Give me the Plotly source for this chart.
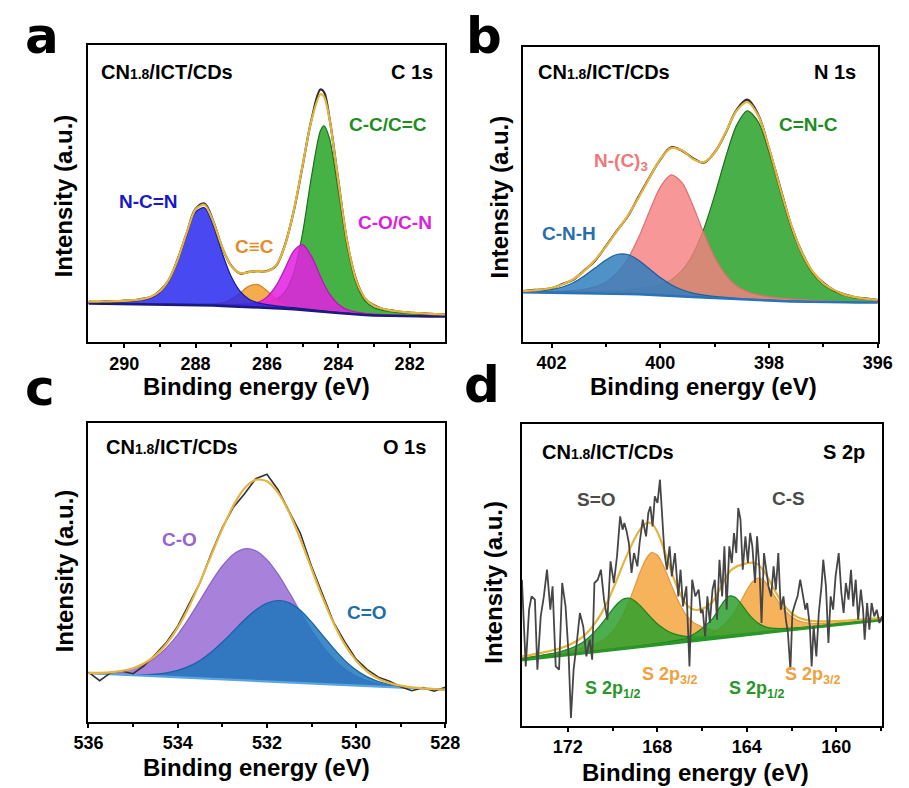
import plotly.graph_objects as go

FIG_W, FIG_H = 909, 788
SANS = "Liberation Sans, Arial, Helvetica, sans-serif"
LETTER_FONT = "DejaVu Sans, Liberation Sans, Arial, sans-serif"

# ---------------- C 1s (binding energy in eV, intensity in a.u.) ----------------
C1S_BE = [291.0, 290.75, 290.5, 290.25, 290.0, 289.75, 289.5, 289.25, 289.0, 288.75,
          288.5, 288.25, 288.0, 287.75, 287.5, 287.25, 287.0, 286.75, 286.5, 286.25,
          286.0, 285.75, 285.5, 285.25, 285.0, 284.75, 284.5, 284.4, 284.25, 284.0,
          283.75, 283.5, 283.25, 283.0, 282.75, 282.5, 282.25, 282.0, 281.75, 281.5,
          281.25, 281.0]
C1S_BACKGROUND = [38.5, 38.4, 38.3, 38.2, 38.1, 38.0, 37.9, 37.8, 37.6, 37.4,
                  37.2, 37.0, 36.8, 36.6, 36.4, 36.1, 35.8, 35.5, 35.1, 34.7,
                  34.3, 33.8, 33.3, 32.7, 32.1, 31.3, 30.5, 30.2, 29.7, 28.9,
                  28.1, 27.4, 26.9, 26.5, 26.2, 26.0, 25.9, 25.8, 25.7, 25.6,
                  25.5, 25.5]
C1S_NCN = [1.1, 1.2, 1.5, 1.8, 2.2, 2.8, 3.9, 6.2, 11.8, 23.4,
           43.5, 70.0, 93.2, 97.7, 79.6, 52.6, 29.6, 15.1, 7.7, 4.5,
           3.1, 2.4, 1.9, 1.6, 1.3, 1.1, 1.0, 0.9, 0.8, 0.7,
           0.7, 0.6, 0.5, 0.5, 0.4, 0.4, 0.4, 0.3, 0.3, 0.3,
           0.3, 0.3]
C1S_CTRIPLEC = [0.1, 0.1, 0.1, 0.1, 0.1, 0.1, 0.2, 0.2, 0.2, 0.3,
                0.3, 0.4, 0.6, 0.8, 1.4, 3.0, 6.9, 13.6, 20.8, 22.7,
                17.0, 9.5, 4.4, 1.9, 1.0, 0.7, 0.5, 0.5, 0.4, 0.3,
                0.3, 0.2, 0.2, 0.2, 0.2, 0.1, 0.1, 0.1, 0.1, 0.1,
                0.1, 0.1]
C1S_CO_CN = [0.2, 0.2, 0.2, 0.2, 0.2, 0.3, 0.3, 0.3, 0.4, 0.4,
             0.5, 0.6, 0.7, 0.8, 1.0, 1.2, 1.5, 2.0, 2.9, 5.1,
             10.6, 22.0, 39.7, 58.2, 65.3, 54.3, 35.0, 27.7, 18.6, 8.9,
             4.4, 2.6, 1.8, 1.4, 1.1, 0.9, 0.8, 0.6, 0.6, 0.5,
             0.4, 0.4]
C1S_CC = [0.4, 0.4, 0.5, 0.5, 0.5, 0.6, 0.6, 0.7, 0.7, 0.8,
          0.9, 1.0, 1.2, 1.3, 1.6, 1.8, 2.2, 2.7, 3.3, 4.2,
          5.6, 8.7, 16.6, 36.6, 76.9, 134.3, 180.8, 186.0, 174.6, 122.4,
          67.0, 31.2, 14.3, 7.8, 5.3, 4.0, 3.1, 2.5, 2.1, 1.8,
          1.5, 1.3]
C1S_RAW = [40.5, 40.2, 40.8, 40.6, 41.3, 41.6, 43.2, 45.0, 51.2, 62.0,
           82.8, 108.6, 133.0, 138.5, 120.4, 94.2, 76.3, 68.5, 70.2, 70.8,
           71.0, 76.0, 96.4, 130.5, 176.0, 222.5, 252.5, 250.0, 224.8, 161.8,
           100.0, 62.4, 43.4, 36.8, 33.0, 31.6, 30.1, 29.5, 28.6, 28.5,
           27.6, 27.8]

# ---------------- N 1s ----------------
N1S_BE = [402.8, 402.6, 402.4, 402.2, 402.0, 401.8, 401.6, 401.4, 401.2, 401.0,
          400.8, 400.6, 400.4, 400.2, 400.0, 399.8, 399.6, 399.4, 399.2, 399.0,
          398.8, 398.6, 398.4, 398.2, 398.0, 397.8, 397.6, 397.4, 397.2, 397.0,
          396.8, 396.6, 396.4, 396.2, 396.0]
N1S_BACKGROUND = [49.6, 49.5, 49.4, 49.3, 49.2, 49.1, 49.0, 48.8, 48.6, 48.4,
                  48.1, 47.8, 47.4, 47.0, 46.5, 46.0, 45.4, 44.8, 44.2, 43.6,
                  43.0, 42.4, 41.9, 41.4, 41.0, 40.6, 40.3, 40.0, 39.8, 39.6,
                  39.5, 39.4, 39.3, 39.3, 39.3]
N1S_CNH = [0.3, 0.5, 0.8, 1.5, 2.8, 5.6, 10.0, 16.9, 25.0, 33.3,
           39.1, 39.4, 34.1, 25.9, 17.6, 11.0, 6.5, 3.8, 2.4, 1.7,
           1.3, 1.0, 0.8, 0.7, 0.6, 0.5, 0.4, 0.3, 0.3, 0.2,
           0.2, 0.2, 0.1, 0.1, 0.1]
N1S_NC3 = [0.2, 0.3, 0.5, 0.7, 1.0, 1.5, 2.3, 3.5, 6.2, 11.0,
           20.2, 34.9, 56.7, 83.3, 108.1, 120.8, 113.7, 91.4, 64.4, 40.8,
           23.9, 13.6, 8.1, 5.4, 3.9, 3.1, 2.4, 1.9, 1.5, 1.2,
           0.9, 0.7, 0.5, 0.4, 0.3]
N1S_CNC = [0.2, 0.3, 0.4, 0.5, 0.7, 0.9, 1.1, 1.4, 1.8, 2.3,
           3.0, 3.8, 5.8, 7.4, 10.4, 15.8, 25.8, 42.8, 68.6, 102.8,
           140.9, 173.7, 188.9, 178.6, 148.3, 110.3, 74.8, 47.2, 28.6, 17.4,
           11.0, 6.5, 4.5, 3.0, 2.0]
N1S_RAW = [50.5, 50.3, 51.4, 52.2, 53.5, 57.6, 62.0, 71.2, 81.0, 95.6,
           110.8, 125.2, 144.8, 164.2, 182.0, 194.4, 191.0, 183.6, 179.0, 189.4,
           208.6, 231.6, 242.0, 227.0, 193.0, 155.2, 117.4, 89.8, 69.8, 58.8,
           51.2, 47.2, 44.0, 43.2, 41.5]

# ---------------- O 1s ----------------
O1S_BE = [536.0, 535.75, 535.5, 535.25, 535.0, 534.75, 534.5, 534.25, 534.0, 533.75,
          533.5, 533.25, 533.0, 532.75, 532.5, 532.25, 532.0, 531.75, 531.5, 531.25,
          531.0, 530.75, 530.5, 530.25, 530.0, 529.75, 529.5, 529.25, 529.0, 528.75,
          528.5, 528.25, 528.0]
O1S_BACKGROUND = [48.5, 48.0, 47.5, 47.0, 46.4, 45.9, 45.4, 44.9, 44.4, 43.8,
                  43.3, 42.8, 42.3, 41.8, 41.3, 40.7, 40.2, 39.7, 39.2, 38.7,
                  38.2, 37.7, 37.2, 36.6, 36.1, 35.6, 35.1, 34.6, 34.1, 33.5,
                  33.0, 32.5, 32.0]
O1S_CO = [0.4, 0.9, 1.8, 3.6, 6.6, 11.4, 18.8, 29.2, 42.8, 59.5,
          78.0, 96.8, 113.4, 125.7, 131.6, 130.3, 121.9, 107.8, 90.1, 71.2,
          53.2, 37.6, 25.1, 15.8, 9.4, 5.3, 2.8, 1.4, 0.7, 0.3,
          0.1, 0.1, 0.0]
O1S_CDO = [0.0, 0.0, 0.1, 0.2, 0.5, 1.1, 2.1, 3.9, 6.9, 11.5,
           18.0, 26.7, 37.1, 48.8, 60.6, 70.9, 78.3, 81.5, 79.8, 72.7,
           61.6, 48.7, 35.8, 24.5, 15.6, 9.2, 5.1, 2.6, 1.3, 0.6,
           0.2, 0.1, 0.0]
O1S_RAW = [49.5, 41.0, 49.0, 50.5, 48.0, 56.0, 67.5, 79.5, 95.5, 116.5,
           139.0, 168.0, 194.0, 214.5, 228.0, 243.0, 247.5, 232.0, 210.5, 188.5,
           155.5, 126.5, 99.0, 79.5, 62.5, 52.0, 44.5, 40.5, 35.0, 31.0,
           34.0, 30.5, 34.5]

# ---------------- S 2p ----------------
S2P_BE = [174.25, 174.0, 173.75, 173.5, 173.25, 173.0, 172.75, 172.5, 172.25, 172.0,
          171.75, 171.5, 171.25, 171.0, 170.75, 170.5, 170.25, 170.0, 169.75, 169.5,
          169.25, 169.0, 168.75, 168.5, 168.25, 168.0, 167.75, 167.5, 167.25, 167.0,
          166.75, 166.5, 166.25, 166.0, 165.75, 165.5, 165.25, 165.0, 164.75, 164.5,
          164.25, 164.0, 163.75, 163.5, 163.25, 163.0, 162.75, 162.5, 162.25, 162.0,
          161.75, 161.5, 161.25, 161.0, 160.75, 160.5, 160.25, 160.0, 159.75, 159.5,
          159.25, 159.0, 158.75, 158.5, 158.25, 158.0, 157.75]
S2P_BACKGROUND = [65.5, 66.1, 66.7, 67.4, 68.0, 68.6, 69.2, 69.8, 70.5, 71.1,
                  71.7, 72.3, 73.0, 73.6, 74.2, 74.8, 75.4, 76.1, 76.7, 77.3,
                  77.9, 78.5, 79.2, 79.8, 80.4, 81.0, 81.6, 82.3, 82.9, 83.5,
                  84.1, 84.8, 85.4, 86.0, 86.6, 87.2, 87.9, 88.5, 89.1, 89.7,
                  90.3, 91.0, 91.6, 92.2, 92.8, 93.4, 94.1, 94.7, 95.3, 95.9,
                  96.6, 97.2, 97.8, 98.4, 99.0, 99.7, 100.3, 100.9, 101.5, 102.1,
                  102.8, 103.4, 104.0, 104.6, 105.2, 105.9, 106.5]
S2P_SO_12 = [1.4, 1.6, 1.7, 2.0, 2.2, 2.5, 2.9, 3.4, 4.2, 5.2,
             6.7, 8.8, 11.8, 15.8, 20.8, 26.8, 33.5, 40.3, 46.0, 49.5,
             49.6, 46.3, 40.5, 33.8, 27.1, 20.9, 16.0, 11.9, 8.9, 6.8,
             5.3, 4.2, 3.5, 2.9, 2.5, 2.2, 2.0, 1.7, 1.6, 1.4,
             1.3, 1.2, 1.1, 1.0, 0.9, 0.9, 0.8, 0.8, 0.7, 0.7,
             0.6, 0.6, 0.6, 0.5, 0.5, 0.5, 0.5, 0.4, 0.4, 0.4,
             0.4, 0.4, 0.3, 0.3, 0.3, 0.3, 0.3]
S2P_SO_32 = [1.4, 1.5, 1.6, 1.8, 1.9, 2.1, 2.3, 2.6, 2.9, 3.3,
             3.8, 4.4, 5.0, 6.1, 7.6, 9.8, 13.1, 18.1, 25.2, 34.9,
             47.0, 61.1, 75.4, 87.0, 92.7, 89.7, 79.5, 65.6, 51.3, 38.4,
             28.0, 20.5, 16.0, 13.0, 10.2, 8.2, 6.8, 5.6, 4.8, 3.4,
             3.0, 2.7, 2.4, 2.2, 2.0, 1.8, 1.7, 1.5, 1.4, 1.3,
             1.2, 1.1, 1.1, 1.0, 0.9, 0.9, 0.8, 0.8, 0.7, 0.7,
             0.7, 0.6, 0.6, 0.6, 0.5, 0.5, 0.5]
S2P_CS_12 = [0.1, 0.1, 0.1, 0.1, 0.2, 0.2, 0.2, 0.2, 0.2, 0.2,
             0.3, 0.3, 0.3, 0.3, 0.4, 0.4, 0.4, 0.5, 0.5, 0.6,
             0.6, 0.7, 0.8, 0.9, 1.0, 1.1, 1.3, 1.6, 1.9, 2.3,
             2.9, 5.2, 7.8, 11.2, 15.5, 20.7, 28.9, 36.6, 40.7, 38.5,
             31.5, 23.2, 15.9, 10.4, 6.8, 4.5, 3.2, 2.5, 2.0, 1.6,
             1.4, 1.2, 1.0, 0.9, 0.8, 0.7, 0.6, 0.6, 0.5, 0.5,
             0.4, 0.4, 0.4, 0.4, 0.3, 0.3, 0.3]
S2P_CS_32 = [0.2, 0.2, 0.2, 0.2, 0.3, 0.3, 0.3, 0.3, 0.3, 0.3,
             0.4, 0.4, 0.4, 0.4, 0.5, 0.5, 0.5, 0.6, 0.6, 0.7,
             0.7, 0.8, 0.9, 1.0, 1.1, 1.2, 1.3, 1.5, 1.7, 1.9,
             2.2, 2.6, 3.0, 3.7, 4.7, 6.4, 8.8, 12.7, 18.3, 25.7,
             34.7, 44.3, 52.1, 55.5, 52.6, 45.0, 35.5, 26.4, 18.8, 13.1,
             9.0, 6.5, 4.9, 3.8, 3.1, 2.6, 2.2, 1.9, 1.7, 1.5,
             1.3, 1.2, 1.1, 1.0, 0.9, 0.8, 0.7]
S2P_RAW_BE = [174.05, 173.88, 173.73, 173.62, 173.47, 173.36, 173.21, 173.07, 172.93, 172.78,
              172.68, 172.54, 172.39, 172.25, 172.10, 171.96, 171.86, 171.74, 171.60, 171.46,
              171.31, 171.17, 171.02, 170.91, 170.81, 170.66, 170.52, 170.38, 170.23, 170.09,
              169.94, 169.80, 169.66, 169.55, 169.47, 169.37, 169.27, 169.15, 169.04, 168.89,
              168.79, 168.65, 168.50, 168.40, 168.31, 168.21, 168.11, 167.99, 167.88, 167.78,
              167.68, 167.57, 167.45, 167.35, 167.21, 167.06, 166.96, 166.85, 166.70, 166.56,
              166.44, 166.30, 166.15, 166.05, 165.97, 165.86, 165.76, 165.65, 165.53, 165.43,
              165.33, 165.22, 165.10, 165.00, 164.90, 164.78, 164.67, 164.57, 164.47, 164.38,
              164.28, 164.18, 164.06, 163.95, 163.85, 163.75, 163.63, 163.54, 163.43, 163.34,
              163.23, 163.13, 163.03, 162.91, 162.80, 162.70, 162.59, 162.48, 162.36, 162.25,
              162.16, 162.05, 161.96, 161.83, 161.73, 161.61, 161.50, 161.38, 161.30, 161.18,
              161.10, 161.01, 160.89, 160.78, 160.66, 160.58, 160.46, 160.35, 160.25, 160.14,
              160.03, 159.89, 159.77, 159.67, 159.57, 159.45, 159.34, 159.24, 159.13, 159.02,
              158.90, 158.80, 158.73, 158.62, 158.52, 158.42, 158.30, 158.19, 158.07, 157.95]
S2P_RAW = [146.0, 59.3, 116.0, 129.3, 126.0, 56.0, 109.3, 129.3, 156.0, 116.0,
           139.3, 59.3, 56.0, 142.7, 119.3, 69.3, 7.7, 56.0, 82.7, 112.7,
           99.3, 69.3, 86.0, 66.0, 142.7, 146.0, 156.0, 126.0, 106.0, 164.3,
           142.7, 169.3, 209.3, 196.0, 202.7, 194.3, 182.7, 152.7, 172.7, 159.3,
           182.7, 206.0, 189.3, 212.7, 219.3, 199.3, 229.3, 222.7, 246.0, 206.0,
           172.7, 156.0, 179.3, 149.3, 172.7, 129.3, 156.0, 119.3, 139.3, 59.3,
           146.0, 129.3, 136.0, 112.7, 116.0, 89.3, 129.3, 102.7, 136.0, 146.0,
           106.0, 166.0, 129.3, 179.3, 116.0, 179.3, 162.7, 192.7, 172.7, 217.7,
           206.0, 156.0, 189.3, 162.7, 192.7, 179.3, 142.7, 189.3, 156.0, 102.7,
           172.7, 156.0, 139.3, 129.3, 159.3, 136.0, 172.7, 116.0, 129.3, 106.0,
           92.7, 56.0, 112.7, 122.7, 129.3, 146.0, 132.7, 116.0, 122.7, 99.3,
           59.3, 99.3, 69.3, 112.7, 139.3, 166.0, 139.3, 82.7, 129.3, 116.0,
           149.3, 172.7, 132.7, 112.7, 142.7, 126.0, 156.0, 119.3, 146.0, 106.0,
           136.0, 116.0, 86.0, 122.7, 96.0, 122.7, 109.3, 116.0, 102.7, 109.3]

FIT_COLOR = "rgb(229,180,62)"


def px(xp, yp):
    """Page pixel position -> paper coordinates."""
    return xp / FIG_W, 1 - yp / FIG_H


fig = go.Figure()


def add_spectrum(ax, be, background, components, raw_be, raw, base_color,
                 base_width, raw_color, raw_width, raw_shape, raw_on_top):
    """Filled fit components on the background, then background, raw data and fit sum."""
    xa, ya = "x" + ax, "y" + ax
    for values, fill, edge in components:
        top = [b + v for b, v in zip(background, values)]
        fig.add_trace(go.Scatter(x=be, y=background, mode="lines",
                                 line=dict(width=0, color=edge),
                                 hoverinfo="skip", showlegend=False,
                                 xaxis=xa, yaxis=ya))
        fig.add_trace(go.Scatter(x=be, y=top, mode="lines", fill="tonexty",
                                 fillcolor=fill,
                                 line=dict(width=1.2, color=edge,
                                           shape="spline", smoothing=0.8),
                                 hoverinfo="skip", showlegend=False,
                                 xaxis=xa, yaxis=ya))
    fig.add_trace(go.Scatter(x=be, y=background, mode="lines",
                             line=dict(width=base_width, color=base_color),
                             hoverinfo="skip", showlegend=False,
                             xaxis=xa, yaxis=ya))
    envelope = [b + sum(c[0][i] for c in components) for i, b in enumerate(background)]
    raw_trace = go.Scatter(x=raw_be, y=raw, mode="lines",
                           line=dict(width=raw_width, color=raw_color,
                                     shape=raw_shape),
                           hoverinfo="skip", showlegend=False,
                           xaxis=xa, yaxis=ya)
    fit_trace = go.Scatter(x=be, y=envelope, mode="lines",
                           line=dict(width=2.2, color=FIT_COLOR,
                                     shape="spline", smoothing=0.8),
                           hoverinfo="skip", showlegend=False,
                           xaxis=xa, yaxis=ya)
    if raw_on_top:
        fig.add_trace(fit_trace)
        fig.add_trace(raw_trace)
    else:
        fig.add_trace(raw_trace)
        fig.add_trace(fit_trace)


# C 1s
add_spectrum("", C1S_BE, C1S_BACKGROUND, [
    (C1S_CC, "rgba(40,165,40,0.86)", "rgb(25,115,25)"),
    (C1S_CTRIPLEC, "rgba(242,158,48,0.86)", "rgb(215,130,40)"),
    (C1S_CO_CN, "rgba(226,32,226,0.86)", "rgb(185,20,185)"),
    (C1S_NCN, "rgba(38,38,238,0.84)", "rgb(25,25,160)"),
], C1S_BE, C1S_RAW, "rgb(28,28,120)", 2.5, "rgb(45,45,45)", 2.2, "spline", False)

# N 1s
add_spectrum("2", N1S_BE, N1S_BACKGROUND, [
    (N1S_CNC, "rgba(48,165,48,0.88)", "rgb(30,115,30)"),
    (N1S_NC3, "rgba(245,128,128,0.82)", "rgb(225,110,110)"),
    (N1S_CNH, "rgba(45,125,190,0.84)", "rgb(30,95,155)"),
], N1S_BE, N1S_RAW, "rgb(40,115,185)", 2.5, "rgb(45,45,45)", 2.2, "spline", False)

# O 1s
add_spectrum("3", O1S_BE, O1S_BACKGROUND, [
    (O1S_CO, "rgba(160,118,215,0.92)", "rgb(140,100,200)"),
    (O1S_CDO, "rgba(28,118,188,0.84)", "rgb(25,95,165)"),
], O1S_BE, O1S_RAW, "rgb(90,165,225)", 2.2, "rgb(50,50,50)", 1.6, "linear", False)

# S 2p
add_spectrum("4", S2P_BE, S2P_BACKGROUND, [
    (S2P_SO_32, "rgba(245,162,55,0.82)", "rgb(230,150,60)"),
    (S2P_CS_32, "rgba(245,162,55,0.82)", "rgb(230,150,60)"),
    (S2P_SO_12, "rgba(45,160,45,0.85)", "rgb(30,130,30)"),
    (S2P_CS_12, "rgba(45,160,45,0.85)", "rgb(30,130,30)"),
], S2P_RAW_BE, S2P_RAW, "rgb(40,150,40)", 3.2, "rgb(70,70,70)", 1.8, "linear", True)

# ---------------- axes ----------------
PANELS = {
    # id: (left, top, right, bottom) page pixels, x range, major ticks, minor ticks, y top
    "": ((76, 45, 445, 342), [291, 281], [290, 288, 286, 284, 282], [289, 287, 285, 283], 297),
    "2": ((525, 46.7, 892.3, 341.7), [402.53, 396.0], [402, 400, 398, 396], [401, 399, 397], 295),
    "3": ((76, 423.3, 445, 721.7), [536, 528], [536, 534, 532, 530, 528], [535, 533, 531, 529], 298.4),
    "4": ((524, 424.3, 896.7, 725.7), [174.06, 157.95], [172, 168, 164, 160], [170, 166, 162, 158], 301.4),
}

layout_axes = {}
for ax, (box, xr, major, minor, ytop) in PANELS.items():
    l, t, r, b = box
    x0, y1 = px(l, t)
    x1, y0 = px(r, b)
    layout_axes["xaxis" + ax] = dict(
        domain=[x0, x1], range=xr, anchor="y" + ax,
        tickmode="array", tickvals=major, ticktext=[str(v) for v in major],
        ticks="outside", ticklen=4, tickwidth=2, tickcolor="black",
        minor=dict(tickvals=minor, ticks="outside", ticklen=3, tickwidth=1.5,
                   tickcolor="black"),
        showline=True, linewidth=2, linecolor="black", mirror=True,
        showgrid=False, zeroline=False,
        tickfont=dict(family=SANS, size=18, color="black", weight="bold"),
    )
    layout_axes["yaxis" + ax] = dict(
        domain=[y0, y1], range=[0, ytop], anchor="x" + ax,
        showticklabels=False, ticks="",
        showline=True, linewidth=2, linecolor="black", mirror=True,
        showgrid=False, zeroline=False,
    )

# ---------------- text ----------------
annotations = []


def page_text(text, xp, yp, size, color="black", xanchor="center",
              yanchor="middle", angle=0, family=SANS, bold=True):
    x, y = px(xp, yp)
    annotations.append(dict(
        text=text, x=x, y=y, xref="paper", yref="paper",
        xanchor=xanchor, yanchor=yanchor, showarrow=False, textangle=angle,
        font=dict(family=family, size=size, color=color,
                  weight="bold" if bold else "normal")))


def data_text(ax, text, be, inten, color, size=19, bold=True):
    annotations.append(dict(
        text=text, x=be, y=inten, xref="x" + ax, yref="y" + ax,
        xanchor="center", yanchor="middle", showarrow=False,
        font=dict(family=SANS, size=size, color=color,
                  weight="bold" if bold else "normal")))


SAMPLE = "CN<span style='font-size:14px'>1.8</span>/ICT/CDs"

# panel letters
page_text("a", 8, 36, 50, xanchor="left", family=LETTER_FONT)
page_text("b", 464, 36, 50, xanchor="left", family=LETTER_FONT)
page_text("c", 8, 388, 50, xanchor="left", family=LETTER_FONT)
page_text("d", 462, 385, 50, xanchor="left", family=LETTER_FONT)

# sample name and core level
page_text(SAMPLE, 87, 72, 20, xanchor="left")
page_text("C 1s", 434, 72, 20, xanchor="right")
page_text(SAMPLE, 539, 72, 20, xanchor="left")
page_text("N 1s", 872, 72, 20, xanchor="right")
page_text(SAMPLE, 92, 447, 20, xanchor="left")
page_text("O 1s", 427, 447, 20, xanchor="right")
page_text(SAMPLE, 543, 452, 20, xanchor="left")
page_text("S 2p", 881, 452, 20, xanchor="right")

# axis titles
for xc, yc in [(250, 386), (712, 386), (250, 767), (704, 772)]:
    page_text("Binding energy (eV)", xc, yc, 24)
for xc, yc in [(51, 196), (501, 197), (51, 571), (494, 582)]:
    page_text("Intensity (a.u.)", xc, yc, 24, angle=-90)

# component labels
data_text("", "N-C=N", 289.32, 140, "rgb(25,25,200)")
data_text("", "C≡C", 286.34, 95, "rgb(228,140,40)")
data_text("", "C-C/C=C", 282.6, 217, "rgb(30,140,30)")
data_text("", "C-O/C-N", 282.41, 119, "rgb(220,30,220)")

data_text("2", "C=N-C", 397.27, 217, "rgb(30,140,30)")
data_text("2", "N-(C)<sub>3</sub>", 400.72, 180, "rgb(240,120,120)")
data_text("2", "C-N-H", 401.68, 108, "rgb(40,110,170)")

data_text("3", "C-O", 533.96, 182, "rgb(150,100,210)")
data_text("3", "C=O", 529.75, 109, "rgb(30,110,170)")

data_text("4", "S=O", 170.73, 226, "rgb(75,75,75)")
data_text("4", "C-S", 162.13, 227, "rgb(75,75,75)")
data_text("4", "S 2p<sub>1/2</sub>", 170.0, 36, "rgb(40,150,40)", size=18)
data_text("4", "S 2p<sub>3/2</sub>", 167.41, 50, "rgb(240,160,60)", size=18)
data_text("4", "S 2p<sub>1/2</sub>", 163.56, 36, "rgb(40,150,40)", size=18)
data_text("4", "S 2p<sub>3/2</sub>", 161.05, 50, "rgb(240,160,60)", size=18)

fig.update_layout(
    width=FIG_W, height=FIG_H,
    margin=dict(l=0, r=0, t=0, b=0),
    paper_bgcolor="white", plot_bgcolor="white",
    showlegend=False,
    annotations=annotations,
    **layout_axes,
)

fig.write_html("out.html")
